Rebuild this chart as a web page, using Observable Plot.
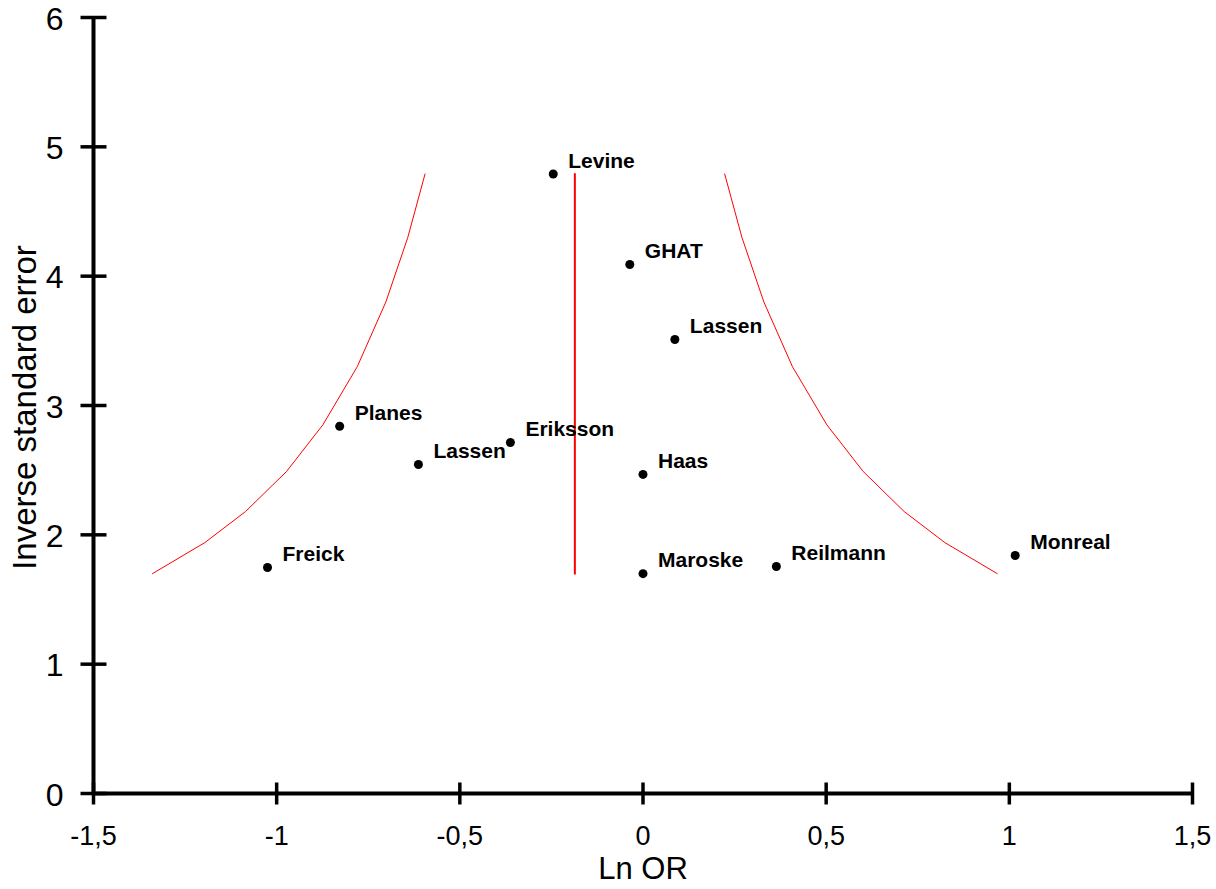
<!DOCTYPE html>
<html>
<head>
<meta charset="utf-8">
<script src="https://cdn.jsdelivr.net/npm/d3@7"></script>
<script src="https://cdn.jsdelivr.net/npm/@observablehq/plot@0.6"></script>
<style>
  html, body { margin: 0; padding: 0; background: #fff; }
  svg { font-family: "Liberation Sans", Arial, sans-serif; }
</style>
</head>
<body>
<div id="chart"></div>
<script>
// Studies
const studyNames = ["Levine", "GHAT", "Lassen", "Planes", "Eriksson", "Lassen", "Haas", "Freick", "Maroske", "Reilmann", "Monreal"];
const lnOR       = [-0.245, -0.036, 0.087, -0.828, -0.362, -0.613, 0.0, -1.025, 0.0, 0.364, 1.016];
const invSE      = [4.79, 4.09, 3.51, 2.84, 2.714, 2.544, 2.467, 1.747, 1.70, 1.755, 1.84];

// Pooled estimate line
const pooledX = [-0.186, -0.186];
const pooledY = [1.70, 4.79];

// Pseudo 95% confidence limits
const funnelY      = [1.70, 1.94, 2.18, 2.49, 2.85, 3.30, 3.80, 4.30, 4.79];
const funnelLeftX  = [-1.339, -1.196, -1.085, -0.973, -0.874, -0.780, -0.702, -0.642, -0.595];
const funnelRightX = [0.967, 0.824, 0.713, 0.601, 0.502, 0.408, 0.330, 0.270, 0.223];

// Ticks
const xTicks = [-1.5, -1, -0.5, 0, 0.5, 1, 1.5];
const xTickLabels = ["-1,5", "-1", "-0,5", "0", "0,5", "1", "1,5"];
const yTicks = [0, 1, 2, 3, 4, 5, 6];
const yTickLabels = ["0", "1", "2", "3", "4", "5", "6"];

const studies = studyNames.map((n, i) => ({name: n, x: lnOR[i], y: invSE[i]}));
const pooled = pooledX.map((x, i) => ({x, y: pooledY[i]}));
const leftLimit = funnelY.map((y, i) => ({x: funnelLeftX[i], y}));
const rightLimit = funnelY.map((y, i) => ({x: funnelRightX[i], y}));

const vTick = {draw(ctx) { ctx.moveTo(0, -11); ctx.lineTo(0, 11); }};
const hTick = {draw(ctx) { ctx.moveTo(-13, 0); ctx.lineTo(13, 0); }};

const chart = Plot.plot({
  width: 1216,
  height: 889,
  marginLeft: 93,
  marginRight: 24,
  marginTop: 17,
  marginBottom: 96,
  x: {domain: [-1.5, 1.5], axis: null},
  y: {domain: [0, 6], axis: null},
  style: {fontFamily: "'Liberation Sans', Arial, sans-serif", background: "white"},
  marks: [
    // funnel
    Plot.line(leftLimit, {x: "x", y: "y", stroke: "#ff0000", strokeWidth: 1}),
    Plot.line(rightLimit, {x: "x", y: "y", stroke: "#ff0000", strokeWidth: 1}),
    Plot.line(pooled, {x: "x", y: "y", stroke: "#ff0000", strokeWidth: 2}),
    // axes lines
    Plot.ruleY([0], {stroke: "black", strokeWidth: 4}),
    Plot.ruleX([-1.5], {stroke: "black", strokeWidth: 4}),
    // ticks
    Plot.dot(xTicks, {x: d => d, y: () => 0, symbol: vTick, stroke: "black", fill: "none", strokeWidth: 3.5, r: 11}),
    Plot.dot(yTicks, {x: () => -1.5, y: d => d, symbol: hTick, stroke: "black", fill: "none", strokeWidth: 3.5, r: 11}),
    // tick labels
    Plot.text(xTicks, {x: d => d, y: () => 0, text: (d, i) => xTickLabels[i], dy: 43, fontSize: 27, fill: "black"}),
    Plot.text(yTicks, {x: () => -1.5, y: d => d, text: (d, i) => yTickLabels[i], dx: -30, dy: 2, textAnchor: "end", fontSize: 32, fill: "black"}),
    // axis titles
    Plot.text(["Ln OR"], {frameAnchor: "bottom", dy: 85, fontSize: 31, fill: "black"}),
    Plot.text(["Inverse standard error"], {frameAnchor: "left", dx: -68, dy: 2, rotate: -90, textAnchor: "middle", fontSize: 33, fill: "black"}),
    // studies
    Plot.dot(studies, {x: "x", y: "y", r: 4.5, fill: "black", stroke: "none"}),
    Plot.text(studies, {x: "x", y: "y", text: "name", dx: 15, dy: -13, textAnchor: "start", fontSize: 21, fontWeight: "bold", fill: "black"})
  ]
});
document.getElementById("chart").appendChild(chart);
</script>
</body>
</html>
